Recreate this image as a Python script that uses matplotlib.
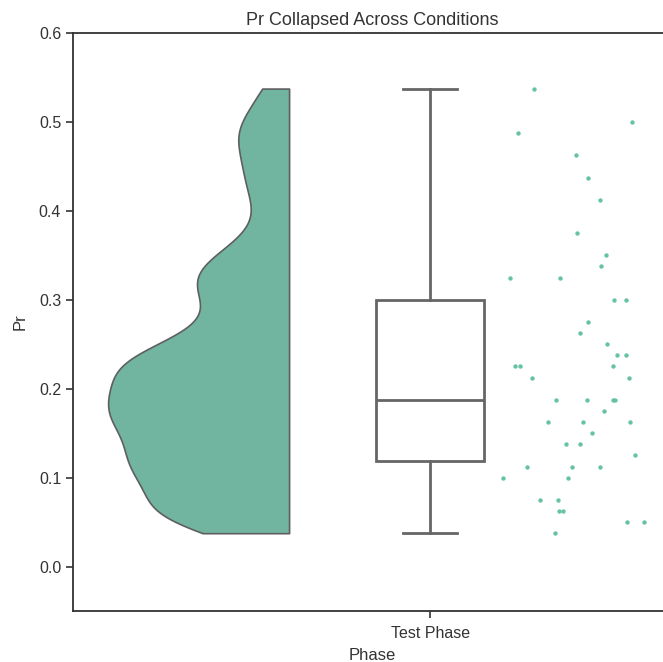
import numpy as np
import matplotlib
matplotlib.use("Agg")
import matplotlib.pyplot as plt

# ---- data ----
category = "Test Phase"
pr_values = [0.5375, 0.5, 0.4875, 0.4625, 0.4375, 0.4125, 0.375, 0.35, 0.3375,
             0.325, 0.325, 0.3, 0.3, 0.275, 0.2625, 0.25, 0.2375, 0.2375,
             0.225, 0.225, 0.225, 0.2125, 0.2125, 0.1875, 0.1875, 0.1875, 0.1875,
             0.175, 0.1625, 0.1625, 0.1625, 0.15, 0.1375, 0.1375, 0.125,
             0.1125, 0.1125, 0.1125, 0.1, 0.1, 0.075, 0.075, 0.0625, 0.0625,
             0.05, 0.05, 0.0375]
# horizontal jitter of each strip point
strip_jitter = [0.193, 0.374, 0.162, 0.271, 0.293, 0.315, 0.272, 0.325, 0.316,
                0.148, 0.241, 0.341, 0.363, 0.293, 0.278, 0.328, 0.346, 0.363,
                0.157, 0.167, 0.338, 0.189, 0.369, 0.233, 0.291, 0.339, 0.342,
                0.322, 0.218, 0.283, 0.370, 0.299, 0.251, 0.278, 0.380,
                0.180, 0.263, 0.315, 0.135, 0.256, 0.204, 0.236, 0.238, 0.246,
                0.364, 0.396, 0.231]
yticks = [0.0, 0.1, 0.2, 0.3, 0.4, 0.5, 0.6]

plt.rcParams['font.family'] = ['Liberation Sans', 'DejaVu Sans']

fig = plt.figure(figsize=(6.63, 6.62), dpi=100)
ax = fig.add_axes([73/663, 1 - 611/662, (671 - 73)/663, (611 - 33)/662])

vals = np.array(pr_values)

# half violin (KDE, cut=0)
bw = 0.2 * vals.std(ddof=1)
grid = np.linspace(vals.min(), vals.max(), 300)
dens = np.exp(-0.5 * ((grid[:, None] - vals[None, :]) / bw) ** 2).sum(axis=1)
dens = dens / dens.max() * 0.335
v_edge = -0.261
ax.fill_betweenx(grid, v_edge - dens, v_edge, facecolor='#71b4a0',
                 edgecolor='#5f5f5f', linewidth=1.2, zorder=2)

# box plot
ax.boxplot([vals], positions=[0], widths=0.2, whis=1.5, showfliers=False,
           patch_artist=True,
           boxprops=dict(facecolor='white', edgecolor='#666666', linewidth=2),
           medianprops=dict(color='#666666', linewidth=2),
           whiskerprops=dict(color='#666666', linewidth=2),
           capprops=dict(color='#666666', linewidth=2),
           zorder=3)

# strip points
ax.scatter(np.array(strip_jitter), vals, s=10, color='#66c2a5', linewidths=0, zorder=4)

ax.set_xlim(-0.661, 0.446)
ax.set_ylim(-0.05, 0.6)
ax.set_xticks([0])
ax.set_xticklabels([category])
ax.set_yticks(yticks)
ax.set_yticklabels([f"{t:.1f}" for t in yticks])

for s in ax.spines.values():
    s.set_color('#333333')
    s.set_linewidth(1.3)
ax.tick_params(axis='both', colors='#333333', labelcolor='#333333',
               length=5, width=1.2, labelsize=11.5)
ax.tick_params(axis='x', pad=5.5)

ax.set_xlabel("Phase", fontsize=12, color='#333333', labelpad=5)
ax.set_ylabel("Pr", fontsize=12, color='#333333', labelpad=8)
ax.set_title("Pr Collapsed Across Conditions", fontsize=13, color='#333333', pad=6)

fig.savefig("out.png", dpi=100)
